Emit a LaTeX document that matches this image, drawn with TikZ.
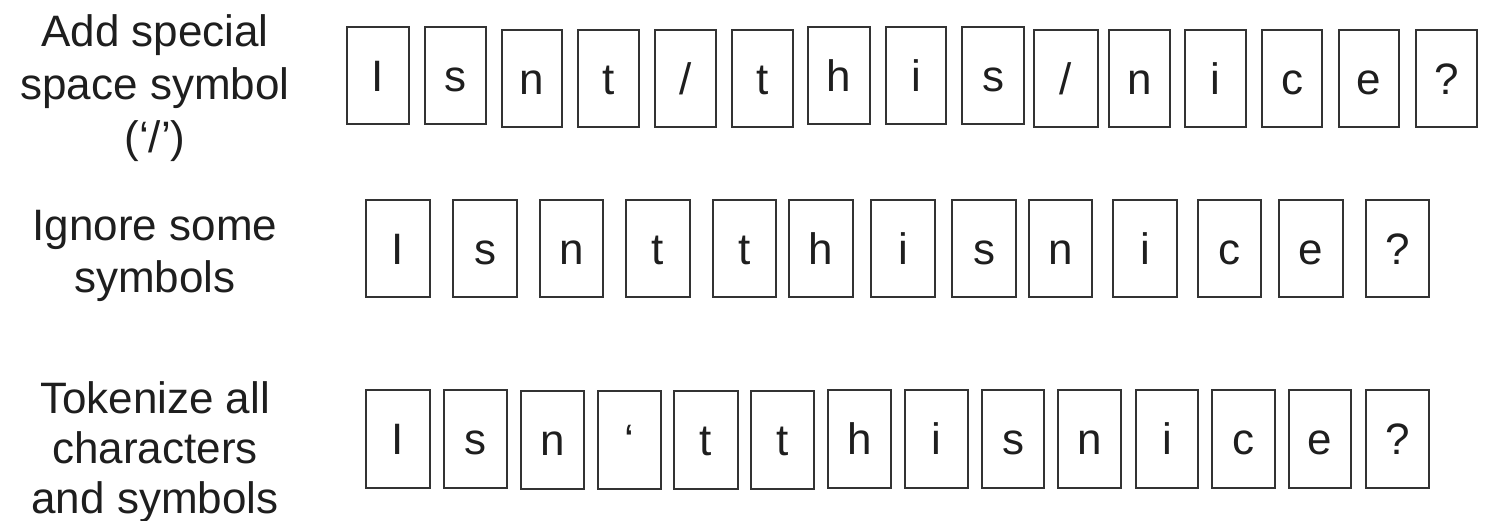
\documentclass[tikz,border=0pt]{standalone}
\usepackage{fontspec}
\setmainfont{Liberation Sans}
\definecolor{inkc}{HTML}{1E1E1E}
\definecolor{edgec}{HTML}{333333}
\tikzset{
  tok/.style={draw=edgec, line width=1.7pt, rectangle, inner sep=0pt,
    text=inkc, font=\fontsize{44}{51}\selectfont, text height=31.5pt, text depth=0pt},
  lbl/.style={align=center, anchor=base, text=inkc, inner sep=0pt}
}
\newcommand\tk[6]{\node[tok, minimum width=#4pt, minimum height=#5pt] (#1) at (#2,#3) {#6};}
\begin{document}
\begin{tikzpicture}[x=1pt,y=-1pt]
\useasboundingbox (0,0) rectangle (1506,521);
% labels (anchored at the baseline of their last line)
\node[lbl, font=\fontsize{44}{53}\selectfont] (l1) at (155,153) {Add special\\space symbol\\(‘/’)};
\node[lbl, font=\fontsize{44}{52}\selectfont] (l2) at (155,292) {Ignore some\\symbols};
\node[lbl, font=\fontsize{44}{50}\selectfont] (l3) at (155,513) {Tokenize all\\characters\\and symbols};
% row 1
\tk{a1}{378}{75.5}{62}{97}{I}
\tk{a2}{455.5}{75.5}{61}{97}{s}
\tk{a3}{532}{78.5}{60}{97}{n}
\tk{a4}{608.5}{78.5}{61}{97}{t}
\tk{a5}{685.5}{78.5}{61}{97}{/}
\tk{a6}{762.5}{78.5}{61}{97}{t}
\tk{a7}{839}{75.5}{62}{97}{h}
\tk{a8}{916}{75.5}{60}{97}{i}
\tk{a9}{993}{75.5}{62}{97}{s}
\tk{a10}{1066}{78.5}{64}{97}{/}
\tk{a11}{1139.5}{78.5}{61}{97}{n}
\tk{a12}{1215.5}{78.5}{61}{97}{i}
\tk{a13}{1292}{78.5}{60}{97}{c}
\tk{a14}{1369}{78.5}{60}{97}{e}
\tk{a15}{1446.5}{78.5}{61}{97}{?}
% row 2
\tk{b1}{398}{248.5}{64}{97}{I}
\tk{b2}{485}{248.5}{64}{97}{s}
\tk{b3}{571.5}{248.5}{63}{97}{n}
\tk{b4}{658}{248.5}{64}{97}{t}
\tk{b5}{744.5}{248.5}{63}{97}{t}
\tk{b6}{821}{248.5}{64}{97}{h}
\tk{b7}{903}{248.5}{64}{97}{i}
\tk{b8}{984}{248.5}{64}{97}{s}
\tk{b9}{1060.5}{248.5}{63}{97}{n}
\tk{b10}{1145}{248.5}{64}{97}{i}
\tk{b11}{1229.5}{248.5}{63}{97}{c}
\tk{b12}{1311}{248.5}{64}{97}{e}
\tk{b13}{1397.5}{248.5}{63}{97}{?}
% row 3
\tk{c1}{398}{439}{64}{98}{I}
\tk{c2}{475.5}{439}{63}{98}{s}
\tk{c3}{552.5}{440}{63}{98}{n}
\tk{c4}{629.5}{440}{63}{98}{‘}
\tk{c5}{706}{440}{64}{98}{t}
\tk{c6}{782.5}{440}{63}{98}{t}
\tk{c7}{859.5}{439}{63}{98}{h}
\tk{c8}{936.5}{439}{63}{98}{i}
\tk{c9}{1013}{439}{62}{98}{s}
\tk{c10}{1089.5}{439}{63}{98}{n}
\tk{c11}{1167}{439}{62}{98}{i}
\tk{c12}{1243.5}{439}{63}{98}{c}
\tk{c13}{1320}{439}{62}{98}{e}
\tk{c14}{1397.5}{439}{63}{98}{?}
\end{tikzpicture}
\end{document}
